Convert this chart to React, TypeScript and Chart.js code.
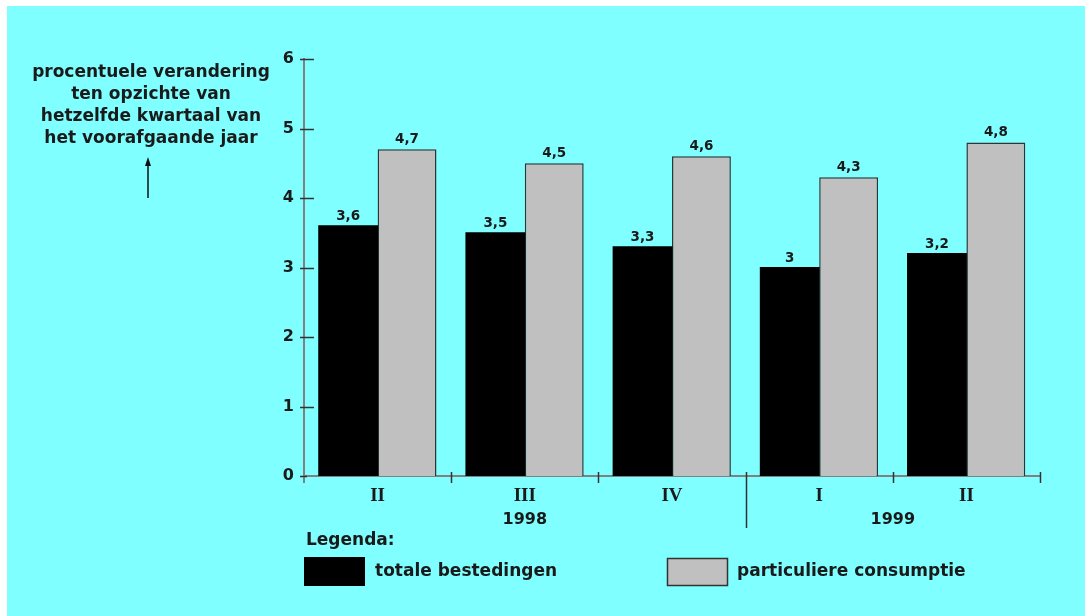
import React, { useEffect, useRef } from "react";
import { Chart, registerables } from "chart.js";

Chart.register(...registerables);

const quarters = ["II", "III", "IV", "I", "II"];
const totaleBestedingen = [3.6, 3.5, 3.3, 3.0, 3.2];
const particuliereConsumptie = [4.7, 4.5, 4.6, 4.3, 4.8];
const yTicks = [0, 1, 2, 3, 4, 5, 6];
const yAxisTitle = [
  "procentuele verandering",
  "ten opzichte van",
  "hetzelfde kwartaal van",
  "het voorafgaande jaar",
];
const legendTitle = "Legenda:";
const seriesNames = ["totale bestedingen", "particuliere consumptie"];
const years = ["1998", "1999"];

const SANS = "'DejaVu Sans', 'Liberation Sans', sans-serif";
const SERIF = "'Liberation Serif', 'DejaVu Serif', serif";
const CYAN = "#7fffff";
const GREY = "#c0c0c0";

function fmt(v: number): string {
  return String(v).replace(".", ",");
}

const decorPlugin = {
  id: "decor",
  beforeDraw(chart: any) {
    const ctx = chart.ctx;
    ctx.save();
    ctx.fillStyle = "#ffffff";
    ctx.fillRect(0, 0, chart.width, chart.height);
    ctx.fillStyle = CYAN;
    ctx.fillRect(7, 6, chart.width - 7, chart.height - 6);
    ctx.restore();
  },
  afterDraw(chart: any) {
    const ctx = chart.ctx;
    const x = chart.scales.x;
    const y = chart.scales.y;
    const area = chart.chartArea;
    ctx.save();

    // y axis extension below the x axis
    ctx.strokeStyle = "#808080";
    ctx.lineWidth = 2;
    ctx.beginPath();
    ctx.moveTo(area.left, area.bottom);
    ctx.lineTo(area.left, area.bottom + 7);
    ctx.stroke();

    // y tick marks crossing the axis
    ctx.strokeStyle = "#333";
    ctx.lineWidth = 1.5;
    yTicks.forEach((t) => {
      const py = Math.round(y.getPixelForValue(t)) + 0.5;
      ctx.beginPath();
      ctx.moveTo(area.left - 4, py);
      ctx.lineTo(area.left + (t === 0 ? 3 : 10), py);
      ctx.stroke();
    });

    // x separators
    const n = quarters.length;
    const step = x.getPixelForValue(1) - x.getPixelForValue(0);
    for (let i = 1; i <= n; i++) {
      const px = Math.round(x.getPixelForValue(i - 1) + step / 2) + 0.5;
      const longTick = i === 3;
      ctx.strokeStyle = "#333";
      ctx.lineWidth = 1.5;
      ctx.beginPath();
      ctx.moveTo(px, area.bottom - 4);
      ctx.lineTo(px, area.bottom + (longTick ? 52 : 7));
      ctx.stroke();
    }

    // years
    ctx.fillStyle = "#1a1a1a";
    ctx.font = `bold 16px ${SANS}`;
    ctx.textAlign = "center";
    ctx.textBaseline = "middle";
    ctx.fillText(years[0], x.getPixelForValue(1), area.bottom + 44);
    ctx.fillText(
      years[1],
      (x.getPixelForValue(3) + x.getPixelForValue(4)) / 2,
      area.bottom + 44
    );

    // value labels
    ctx.font = `bold 13.5px ${SANS}`;
    ctx.textBaseline = "alphabetic";
    [totaleBestedingen, particuliereConsumptie].forEach((arr, di) => {
      const meta = chart.getDatasetMeta(di);
      meta.data.forEach((bar: any, j: number) => {
        ctx.fillText(fmt(arr[j]), bar.x, bar.y - 6);
      });
    });

    // y axis title
    ctx.font = `bold 17px ${SANS}`;
    ctx.textBaseline = "middle";
    yAxisTitle.forEach((line, i) => {
      ctx.fillText(line, 151, 73 + i * 22);
    });
    // arrow
    ctx.strokeStyle = "#111";
    ctx.lineWidth = 1.5;
    ctx.beginPath();
    ctx.moveTo(148, 198);
    ctx.lineTo(148, 162);
    ctx.stroke();
    ctx.fillStyle = "#111";
    ctx.beginPath();
    ctx.moveTo(148, 157);
    ctx.lineTo(145, 166);
    ctx.lineTo(151, 166);
    ctx.closePath();
    ctx.fill();

    // legend
    ctx.fillStyle = "#1a1a1a";
    ctx.font = `bold 17px ${SANS}`;
    ctx.textAlign = "left";
    ctx.fillText(legendTitle, 306, 541);
    ctx.fillStyle = "#000";
    ctx.fillRect(304, 557, 61, 29);
    ctx.fillStyle = GREY;
    ctx.fillRect(667, 558, 61, 28);
    ctx.strokeStyle = "#333";
    ctx.lineWidth = 1.5;
    ctx.strokeRect(667.5, 558.5, 60, 27);
    ctx.fillStyle = "#1a1a1a";
    ctx.fillText(seriesNames[0], 375, 572);
    ctx.fillText(seriesNames[1], 737, 572);

    ctx.restore();
  },
};

export default function App() {
  const ref = useRef<HTMLCanvasElement>(null);
  useEffect(() => {
    if (!ref.current) return;
    const chart = new Chart(ref.current, {
      type: "bar",
      data: {
        labels: quarters,
        datasets: [
          {
            label: seriesNames[0],
            data: totaleBestedingen,
            backgroundColor: "#000",
            borderColor: "#000",
            borderWidth: 0,
            inflateAmount: 0.5,
            categoryPercentage: 0.8,
            barPercentage: 1.0,
          },
          {
            label: seriesNames[1],
            data: particuliereConsumptie,
            backgroundColor: GREY,
            borderColor: "#333",
            borderWidth: 1.5,
            categoryPercentage: 0.8,
            barPercentage: 1.0,
          },
        ],
      },
      options: {
        responsive: false,
        animation: false,
        devicePixelRatio: 1,
        layout: { padding: { left: 0, top: 59, right: 45, bottom: 0 } },
        plugins: {
          legend: { display: false },
          tooltip: { enabled: false },
        },
        scales: {
          x: {
            offset: true,
            grid: { display: false, drawTicks: false },
            border: { display: true, color: "#808080", width: 2 },
            ticks: {
              color: "#1a1a1a",
              padding: 9,
              font: { family: SERIF, weight: "bold", size: 19 },
            },
            afterFit: (s: any) => {
              s.height = 140;
            },
          },
          y: {
            min: 0,
            max: 6,
            grid: { display: false, drawTicks: false },
            border: { display: true, color: "#808080", width: 2 },
            ticks: {
              stepSize: 1,
              color: "#1a1a1a",
              padding: 10,
              font: { family: SANS, weight: "bold", size: 16 },
            },
            afterFit: (s: any) => {
              s.width = 304;
            },
          },
        },
      },
      plugins: [decorPlugin],
    });
    return () => chart.destroy();
  }, []);
  return (
    <div style={{ position: "fixed", left: 0, top: 0, width: 1085, height: 616 }}>
      <canvas ref={ref} width={1085} height={616} style={{ display: "block" }} />
    </div>
  );
}
